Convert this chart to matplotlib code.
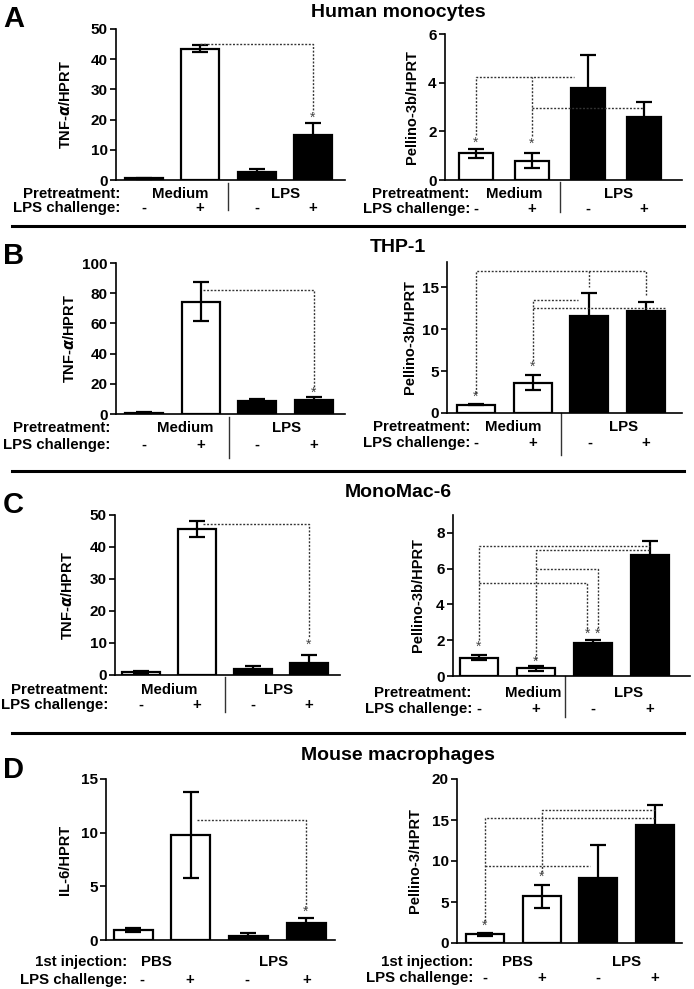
import matplotlib.pyplot as plt
from matplotlib.transforms import blended_transform_factory

plt.rcParams['font.family'] = ['Liberation Sans', 'DejaVu Sans']
plt.rcParams['font.weight'] = 'bold'
plt.rcParams['axes.labelweight'] = 'bold'

W, H = 694, 989

# bar values (mean) and error (SEM), order: Medium/-, Medium/+, LPS/-, LPS/+
mono_tnf = [0.6, 43.5, 2.8, 15.0]
mono_tnf_err = [0.15, 1.1, 1.0, 4.0]
mono_peli = [1.1, 0.8, 3.8, 2.6]
mono_peli_err = [0.18, 0.3, 1.32, 0.62]

thp_tnf = [0.8, 74.5, 8.4, 9.3]
thp_tnf_err = [0.3, 13.0, 1.5, 1.7]
thp_peli = [1.0, 3.6, 11.6, 12.1]
thp_peli_err = [0.1, 0.9, 2.7, 1.1]

mm6_tnf = [0.9, 45.6, 2.0, 3.9]
mm6_tnf_err = [0.3, 2.6, 0.7, 2.3]
mm6_peli = [1.03, 0.43, 1.83, 6.75]
mm6_peli_err = [0.16, 0.13, 0.2, 0.82]

mouse_il6 = [0.9, 9.8, 0.4, 1.56]
mouse_il6_err = [0.18, 4.0, 0.22, 0.46]
mouse_peli = [1.06, 5.7, 7.9, 14.4]
mouse_peli_err = [0.21, 1.4, 4.1, 2.45]

fills = ['white', 'white', 'black', 'black']
signs = ['-', '+', '-', '+']

titles = ['Human monocytes', 'THP-1', 'MonoMac-6', 'Mouse macrophages']
letters = ['A', 'B', 'C', 'D']

fig = plt.figure(figsize=(W / 100, H / 100), dpi=100)

TXT = 10.8
DOT = dict(color='#333333', lw=1.0, ls=(0, (1.4, 1.2)), clip_on=False, zorder=4)


def panel(box, bars, vals, errs, ymax, yticks, ylabel, lab_px,
          row_names, row_px, rows_y, groups, groups_x, sep, links, stars,
          signs_x=None):
    x0, x1, yt, yb = box
    ax = fig.add_axes([x0 / W, 1 - yb / H, (x1 - x0) / W, (yb - yt) / H])
    c0, step, bw = bars
    xs = list(range(len(vals)))
    ax.bar(xs, vals, width=bw / step, color=fills, edgecolor='black',
           linewidth=1.6, zorder=2)
    ax.errorbar(xs, vals, yerr=errs, fmt='none', ecolor='black',
                elinewidth=1.6, capsize=6, capthick=1.6, zorder=3)
    ax.set_xlim((x0 - c0) / step, (x1 - c0) / step)
    ax.set_ylim(0, ymax)
    ax.set_yticks(yticks)
    for s in ['top', 'right']:
        ax.spines[s].set_visible(False)
    for s in ['left', 'bottom']:
        ax.spines[s].set_linewidth(1.2)
    ax.tick_params(axis='x', bottom=False, labelbottom=False)
    ax.tick_params(axis='y', direction='out', length=4, width=1.2,
                   labelsize=11, pad=2)
    ax.set_ylabel(ylabel, fontsize=10.5)
    ax.yaxis.set_label_coords((lab_px - x0) / (x1 - x0), 0.5)

    blend = blended_transform_factory(ax.transData, fig.transFigure)
    for name, rx, y in zip(row_names, row_px, rows_y):
        fig.text(rx / W, 1 - y / H, name, ha='right', va='baseline',
                 fontsize=TXT)
    for g, gx in zip(groups, groups_x):
        ax.text(gx, 1 - rows_y[0] / H, g, transform=blend, ha='center',
                va='baseline', fontsize=TXT)
    for x, s in zip(signs_x or xs, signs):
        ax.text(x, 1 - rows_y[1] / H, s, transform=blend, ha='center',
                va='baseline', fontsize=TXT)
    if sep:
        ax.plot([1.5, 1.5], [1 - sep[0] / H, 1 - sep[1] / H], transform=blend,
                color='#333333', lw=1.0, clip_on=False)
    for pts in links:
        ax.plot([p[0] for p in pts], [p[1] for p in pts], **DOT)
    for sx, sy in stars:
        ax.text(sx, sy, '*', ha='center', va='center', fontsize=10,
                color='#444444', fontweight='normal')
    return ax


pre_rows = ['Pretreatment:', 'LPS challenge:']
inj_rows = ['1st injection:', 'LPS challenge:']
tnf_lab = r'TNF-$\alpha$/HPRT'

# A - human monocytes
panel((116, 345, 29, 180), (143.5, 56.5, 38), mono_tnf, mono_tnf_err,
      50, [0, 10, 20, 30, 40, 50], tnf_lab, 73,
      pre_rows, (120, 120), (198, 212), ['Medium', 'LPS'], [0.65, 2.52], (183, 210),
      [[(1, 44.9), (3, 44.9), (3, 22.5)]], [(3, 20.5)])
panel((445, 682, 34, 180), (476, 56, 34), mono_peli, mono_peli_err,
      6, [0, 2, 4, 6], 'Pellino-3b/HPRT', 419,
      pre_rows, (469, 470), (198, 213), ['Medium', 'LPS'], [0.68, 2.55], (182, 212),
      [[(0, 1.85), (0, 4.22), (1.75, 4.22)], [(1, 1.8), (1, 4.22)],
       [(1, 2.95), (3, 2.95)]],
      [(0, 1.55), (1, 1.5)])

# B - THP-1
panel((116, 345, 263, 414), (144, 56.5, 38), thp_tnf, thp_tnf_err,
      100, [0, 20, 40, 60, 80, 100], tnf_lab, 77,
      pre_rows, (110, 110), (432, 449), ['Medium', 'LPS'], [0.73, 2.53], (417, 458),
      [[(1.05, 82.3), (3, 82.3), (3, 16.5)]], [(3, 14)])
panel((447, 682, 262, 413), (476, 56.7, 38), thp_peli, thp_peli_err,
      18, [0, 5, 10, 15], 'Pellino-3b/HPRT', 417,
      pre_rows, (470, 470), (431, 447), ['Medium', 'LPS'], [0.66, 2.6], (413, 455),
      [[(0, 2.4), (0, 16.9), (3, 16.9), (3, 14.1)], [(2, 16.9), (2, 15.0)],
       [(1, 6.2), (1, 13.5), (1.8, 13.5)], [(1, 12.55), (3.33, 12.55)]],
      [(0, 1.9), (1, 5.5)])

# C - MonoMac-6
panel((115, 340, 515, 675), (141, 56, 38), mm6_tnf, mm6_tnf_err,
      50, [0, 10, 20, 30, 40, 50], tnf_lab, 75,
      pre_rows, (108, 108), (694, 709), ['Medium', 'LPS'], [0.5, 2.45], (677, 712),
      [[(1.1, 47.1), (3, 47.1), (3, 11.5)]], [(3, 9.4)])
panel((453, 690, 515, 676), (479, 57, 38), mm6_peli, mm6_peli_err,
      9, [0, 2, 4, 6, 8], 'Pellino-3b/HPRT', 425,
      pre_rows, (471, 472), (697, 713), ['Medium', 'LPS'], [0.95, 2.63], (676, 717),
      [[(0, 2.0), (0, 7.29), (3, 7.29)], [(0, 5.2), (1.9, 5.2), (1.9, 2.6)],
       [(1, 0.95), (1, 7.03), (3, 7.03)], [(1, 5.98), (2.08, 5.98), (2.08, 2.6)]],
      [(0, 1.64), (1, 0.8), (1.9, 2.35), (2.08, 2.35)])

# D - mouse macrophages
panel((106, 335, 779, 940), (133.5, 57.5, 39), mouse_il6, mouse_il6_err,
      15, [0, 5, 10, 15], 'IL-6/HPRT', 72,
      inj_rows, (127, 127), (966, 984), ['PBS', 'LPS'], [0.4, 2.43], None,
      [[(1.1, 11.2), (3, 11.2), (3, 3.1)]], [(3, 2.65)],
      signs_x=[0.15, 0.98, 1.97, 3.01])
panel((457, 682, 779, 943), (485, 56.5, 38), mouse_peli, mouse_peli_err,
      20, [0, 5, 10, 15, 20], 'Pellino-3/HPRT', 422,
      inj_rows, (473, 473), (966, 982), ['PBS', 'LPS'], [0.57, 2.51], None,
      [[(0, 2.7), (0, 15.3), (3, 15.3)], [(0, 9.4), (1.86, 9.4)],
       [(1, 8.7), (1, 16.2), (3, 16.2)]],
      [(0, 2.16), (1, 8.1)])

# section titles, letters and rules
title_base = [17, 252, 497, 760]
letter_base = [27, 264, 513, 778]
for t, tb, l, lb in zip(titles, title_base, letters, letter_base):
    fig.text(398 / W, 1 - tb / H, t, ha='center', va='baseline', fontsize=14)
    fig.text(3 / W, 1 - lb / H, l, ha='left', va='baseline', fontsize=21)

for ry in [226, 470.7, 732.7]:
    fig.add_artist(plt.Line2D([12 / W, 684 / W], [1 - ry / H, 1 - ry / H],
                              color='black', lw=2.2))

fig.savefig('out.png', dpi=100)
